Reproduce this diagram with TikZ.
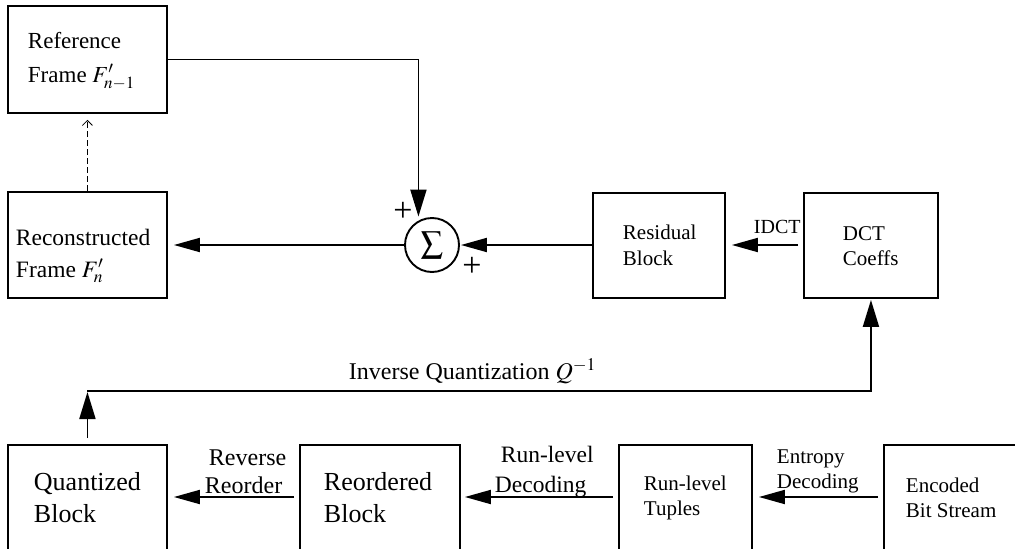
\documentclass[tikz,border=0pt]{standalone}
\usepackage{mathptmx}
\usepackage[no-math]{fontspec}
\setmainfont{Liberation Serif}
\usetikzlibrary{arrows.meta}

% two stacked text lines; the node's base is the first line's baseline
\newcommand\twoline[3]{\vtop{\baselineskip=#1\relax\hbox{#2}\hbox{#3}}}
\newcommand\fs[1]{\fontsize{#1}{#1}\selectfont}

\tikzset{
  blk/.style={draw, rectangle, inner sep=0pt, anchor=north west},
  txt/.style={inner sep=0pt, anchor=base west},
  arr/.style={-{Triangle[length=26pt,width=14pt]}},
  arrv/.style={-{Triangle[length=27pt,width=16pt]}},
}

\begin{document}
\begin{tikzpicture}[x=1pt, y=-1pt, line width=1.9pt]
\useasboundingbox (0,0) rectangle (1015,549);
\fill[white] (0,0) rectangle (1015,549);
\clip (0,0) rectangle (1015,549);

% ---- blocks ----
\node[blk, minimum width=159pt, minimum height=107pt] (ref)    at (7,5)    {};
\node[blk, minimum width=159pt, minimum height=106pt] (rec)    at (7,191)  {};
\node[blk, minimum width=132pt, minimum height=105pt] (res)    at (592,192) {};
\node[blk, minimum width=134pt, minimum height=105pt] (dct)    at (803,192) {};
\node[blk, minimum width=159pt, minimum height=130pt] (quant)  at (7,444)  {};
\node[blk, minimum width=160pt, minimum height=130pt] (reord)  at (299,444) {};
\node[blk, minimum width=133pt, minimum height=130pt] (tuples) at (618,444) {};
\node[blk, minimum width=150pt, minimum height=130pt] (enc)    at (883,444) {};

% summing junction
\node[draw, circle, minimum size=54pt, inner sep=0pt] (sum) at (432,245)
  {\fs{22}$\displaystyle\sum$};
\node[inner sep=0pt, font=\fs{34}] (plusA) at (403,212) {+};
\node[inner sep=0pt, font=\fs{34}] (plusB) at (472,267) {+};

% ---- block texts ----
\node[txt, font=\fs{23}] (refT) at (27,48)
  {\twoline{34pt}{Reference}{Frame $F'_{n-1}$}};
\node[txt, font=\fs{23.5}] (recT) at (15,245)
  {\twoline{32pt}{Reconstructed}{Frame $F'_{n}$}};
\node[txt, font=\fs{21}] (resT) at (622,239)
  {\twoline{26pt}{Residual}{Block}};
\node[txt, font=\fs{21}] (dctT) at (842,240)
  {\twoline{25pt}{DCT}{Coeffs}};
\node[txt, font=\fs{26}] (quantT) at (33,490)
  {\twoline{32pt}{Quantized}{Block}};
\node[txt, font=\fs{26}] (reordT) at (323,490)
  {\twoline{32pt}{Reordered}{Block}};
\node[txt, font=\fs{21}] (tuplesT) at (643,490)
  {\twoline{25pt}{Run-level}{Tuples}};
\node[txt, font=\fs{21}] (encT) at (905,492)
  {\twoline{25pt}{Encoded}{Bit Stream}};

% ---- connector labels ----
\node[txt, font=\fs{20}] (idctT) at (753,233) {IDCT};
\node[txt, font=\fs{24}] (iqT) at (348,379) {Inverse Quantization $Q^{-1}$};
\node[txt, font=\fs{24}] (rrT) at (204,465)
  {\twoline{28pt}{\kern4pt Reverse}{Reorder}};
\node[txt, font=\fs{23.5}] (rlT) at (494,462)
  {\twoline{30pt}{\kern6pt Run-level}{Decoding}};
\node[txt, font=\fs{21}] (edT) at (776,463)
  {\twoline{25pt}{Entropy}{Decoding}};

% ---- connectors ----
\coordinate (row) at (0,497);
\coordinate (iq)  at (870,391);

% reference frame feeds the adder from above
\draw[arrv, shorten >=4pt] (ref.east) -| (sum.119);
% reconstructed frame becomes the next reference
\draw[line width=1.2pt, dash pattern=on 6pt off 3pt,
      -{Straight Barb[length=5pt,width=10pt,line width=0.8pt]}, shorten >=6pt]
  (rec.north) -- (ref.south);
% adder output and residual input
\draw[arr, shorten >=6pt] (sum.west) -- (rec.east |- sum.west);
\draw[arr, shorten >=1pt] (res.west |- sum.east) -- (sum.east);
\draw[arr, shorten <=5pt, shorten >=6pt] (dct.west |- sum.east) -- (res.east |- sum.east);

% inverse quantization loop
\draw[arrv, shorten <=6pt, shorten >=1pt] (quant.north) -- (quant.north |- iq);
\draw[arrv, shorten >=1pt] (quant.north |- iq) -| (dct.south);

% bottom row, right to left
\draw[arr, shorten <=5pt, shorten >=6pt] (reord.west |- row) -- (quant.east |- row);
\draw[arr, shorten <=5pt, shorten >=4pt] (tuples.west |- row) -- (reord.east |- row);
\draw[arr, shorten <=5pt, shorten >=6pt] (enc.west |- row) -- (tuples.east |- row);
\end{tikzpicture}
\end{document}
